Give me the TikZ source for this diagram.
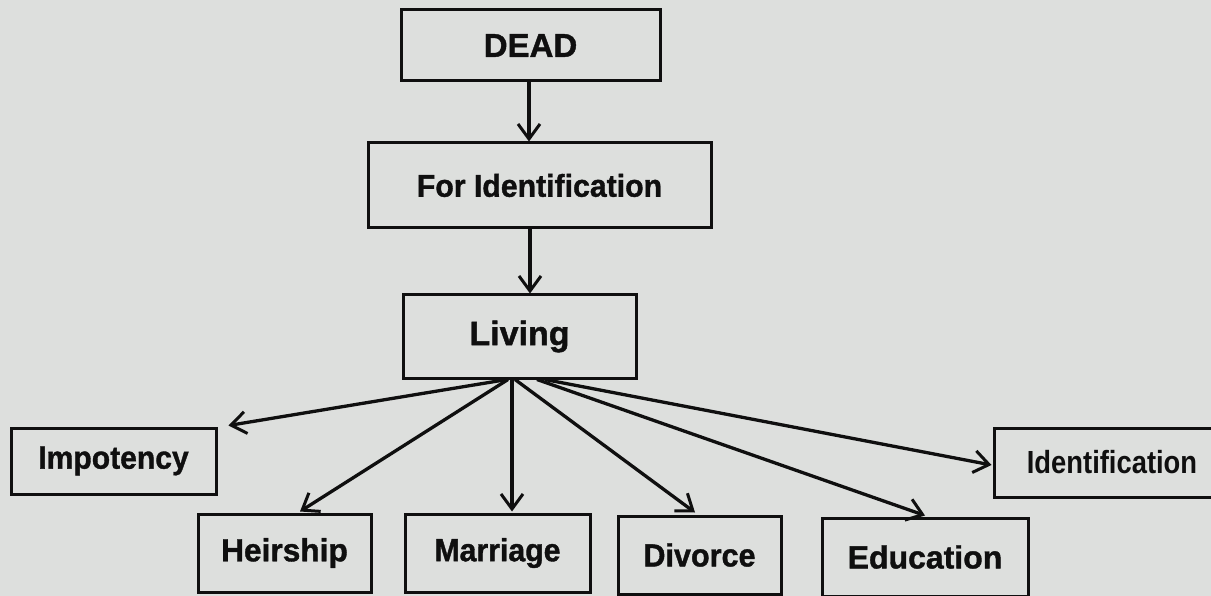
\documentclass[tikz,border=0pt]{standalone}
\usepackage{fontspec}
\setmainfont{Liberation Sans}
\newfontfamily\heavyfont[FakeBold=1.2]{Liberation Sans Bold}
\usetikzlibrary{arrows.meta,calc}
\definecolor{paper}{RGB}{221,223,221}
\definecolor{ink}{RGB}{15,15,15}
\newcommand{\lbl}[3]{\fontsize{#1}{#1}\selectfont\scalebox{#2}[1]{#3}}
\tikzset{
  box/.style={draw=ink, line width=3pt, rectangle, inner sep=0pt, text=ink,
              font=\heavyfont},
  conn/.style={draw=ink, line width=3.3pt, -{Straight Barb[length=15pt,width=22pt,line width=3pt]}}
}
\begin{document}
\begin{tikzpicture}[x=1pt,y=-1pt]
\useasboundingbox (0,0) rectangle (1211,596);
\fill[paper] (0,0) rectangle (1211,596);
\clip (0,0) rectangle (1211,596);
\node[box, minimum width=259pt, minimum height=71pt] (dead) at (530.5,45.5) {\lbl{33}{1.0}{DEAD}};
\node[box, minimum width=343pt, minimum height=85pt] (forid) at (539.5,185.5) {\lbl{31.5}{0.96}{For Identification}};
\node[box, minimum width=233pt, minimum height=83pt] (living) at (519.5,336.5) {\lbl{34}{1.0}{Living}};
\node[box, minimum width=205pt, minimum height=66pt] (impotency) at (113.5,461) {\lbl{32}{0.94}{Impotency}};
\node[box, minimum width=173pt, minimum height=78pt] (heirship) at (284.5,553) {\lbl{32}{0.99}{Heirship}};
\node[box, minimum width=185pt, minimum height=78pt] (marriage) at (497.5,553) {\lbl{32}{0.945}{Marriage}};
\node[box, minimum width=163pt, minimum height=78pt] (divorce) at (699.5,555) {\lbl{32}{0.955}{Divorce}};
\node[box, minimum width=206pt, minimum height=78pt] (education) at (925,557) {\lbl{32}{1.0}{Education}};
\node[box, minimum width=236pt, minimum height=69pt, font=\bfseries] (identification) at (1112,462.5) {\lbl{32}{0.855}{Identification}};

\draw[conn] ([xshift=-1.5pt]dead.south) -- ([xshift=-10.5pt]forid.north);
\draw[conn] ([xshift=-9.5pt]forid.south) -- ([xshift=10.5pt]living.north);
\draw[conn] ([xshift=-12.5pt]living.south) -- ([xshift=11pt,yshift=1pt]impotency.north east);
\draw[conn] ([xshift=-11.5pt]living.south) -- ([xshift=15.5pt,yshift=1pt]heirship.north);
\draw[conn] ([xshift=-7.5pt]living.south) -- ([xshift=14.5pt,yshift=1pt]marriage.north);
\draw[conn] ([xshift=-4.5pt]living.south) -- ([xshift=-4.5pt,yshift=2pt]divorce.north);
\draw[conn] ([xshift=17.5pt]living.south) -- ([yshift=1pt]education.north);
\draw[conn] ([xshift=25.5pt]living.south) -- ([xshift=-1pt,yshift=-2.5pt]identification.west);
\end{tikzpicture}
\end{document}
